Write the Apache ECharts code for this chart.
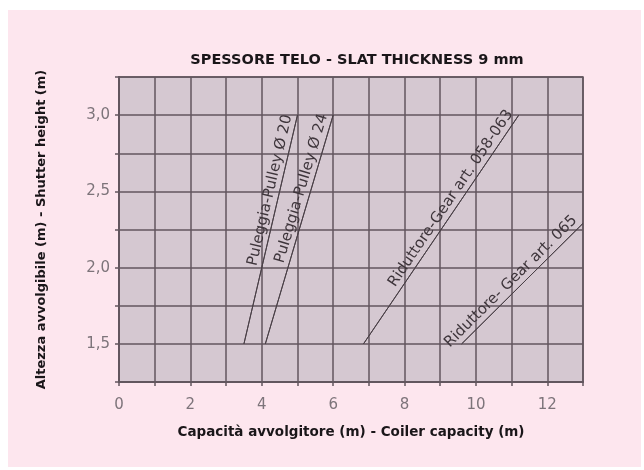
<!DOCTYPE html>
<html>
<head>
<meta charset="utf-8">
<script src="https://cdn.jsdelivr.net/npm/echarts@6/dist/echarts.min.js"></script>
<style>
  html, body { margin: 0; padding: 0; background: #fff; }
  #chart { width: 644px; height: 470px; }
</style>
</head>
<body>
<div id="chart"></div>
<script>
// curve names and their end points [capacity (m), height (m)]
const curveNames = ['Puleggia-Pulley Ø 20', 'Puleggia-Pulley Ø 24', 'Riduttore-Gear art. 058-063', 'Riduttore- Gear art. 065'];
const curveStart = [[3.5, 1.5], [4.1, 1.5], [6.85, 1.5], [9.6, 1.5]];
const curveEnd = [[5.0, 3.0], [6.0, 3.0], [11.2, 3.0], [13.0, 2.29]];

const xLabels = [0, 2, 4, 6, 8, 10, 12];
const yLabels = [1.5, 2.0, 2.5, 3.0];

const gridColor = '#62565e';
const lineColor = '#4a4047';
const font = 'DejaVu Sans, Liberation Sans, sans-serif';

const chart = echarts.init(document.getElementById('chart'));

const series = curveNames.map((name, i) => ({
  name,
  type: 'line',
  data: [curveStart[i], curveEnd[i]],
  symbol: 'none',
  silent: true,
  lineStyle: { color: lineColor, width: 1 },
  markLine: {
    silent: true,
    symbol: 'none',
    lineStyle: { color: lineColor, width: 1, type: 'solid' },
    label: {
      show: true,
      position: 'insideEndTop',
      formatter: name,
      color: '#3e353b',
      fontSize: 15,
      fontFamily: font,
      distance: 2
    },
    data: [[{ coord: curveStart[i] }, { coord: curveEnd[i] }]]
  }
}));

chart.setOption({
  backgroundColor: '#fff',
  animation: false,
  graphic: [{
    type: 'rect',
    z: -10,
    shape: { x: 8, y: 10, width: 633, height: 457 },
    style: { fill: '#fde6ee' }
  }],
  title: {
    text: 'SPESSORE TELO - SLAT THICKNESS 9 mm',
    left: 352,
    textAlign: 'center',
    top: 48,
    textStyle: {
      fontSize: 14.5,
      fontWeight: 'bold',
      color: '#1a1619',
      fontFamily: font
    }
  },
  grid: {
    left: 119,
    right: 61,
    top: 77,
    bottom: 88,
    show: true,
    backgroundColor: '#d5c8d1',
    borderColor: gridColor,
    borderWidth: 1.5
  },
  xAxis: {
    type: 'value',
    min: 0,
    max: 13,
    interval: 1,
    name: 'Capacità avvolgitore (m) - Coiler capacity (m)',
    nameLocation: 'middle',
    nameGap: 43,
    nameTextStyle: {
      fontSize: 13.5,
      fontWeight: 'bold',
      color: '#1a1619',
      fontFamily: font
    },
    axisLine: { show: true, lineStyle: { color: gridColor, width: 2 } },
    axisTick: { show: true, length: 4, lineStyle: { color: gridColor, width: 1.5 } },
    splitLine: { show: true, lineStyle: { color: gridColor, width: 1.5 } },
    axisLabel: {
      color: '#7d747a',
      fontSize: 15,
      margin: 16,
      fontFamily: font,
      formatter: v => (xLabels.includes(v) ? String(v) : '')
    }
  },
  yAxis: {
    type: 'value',
    min: 1.25,
    max: 3.25,
    interval: 0.25,
    name: 'Altezza avvolgibile (m) - Shutter height (m)',
    nameLocation: 'middle',
    nameGap: 71,
    nameTextStyle: {
      fontSize: 13,
      fontWeight: 'bold',
      color: '#1a1619',
      fontFamily: font
    },
    axisLine: { show: true, lineStyle: { color: gridColor, width: 2 } },
    axisTick: { show: true, length: 4, lineStyle: { color: gridColor, width: 1.5 } },
    splitLine: { show: true, lineStyle: { color: gridColor, width: 1.5 } },
    axisLabel: {
      color: '#7d747a',
      fontSize: 15,
      margin: 9,
      fontFamily: font,
      formatter: v => {
        const r = Math.round(v * 100) / 100;
        return yLabels.includes(r) ? r.toFixed(1).replace('.', ',') : '';
      }
    }
  },
  series
});
</script>
</body>
</html>
